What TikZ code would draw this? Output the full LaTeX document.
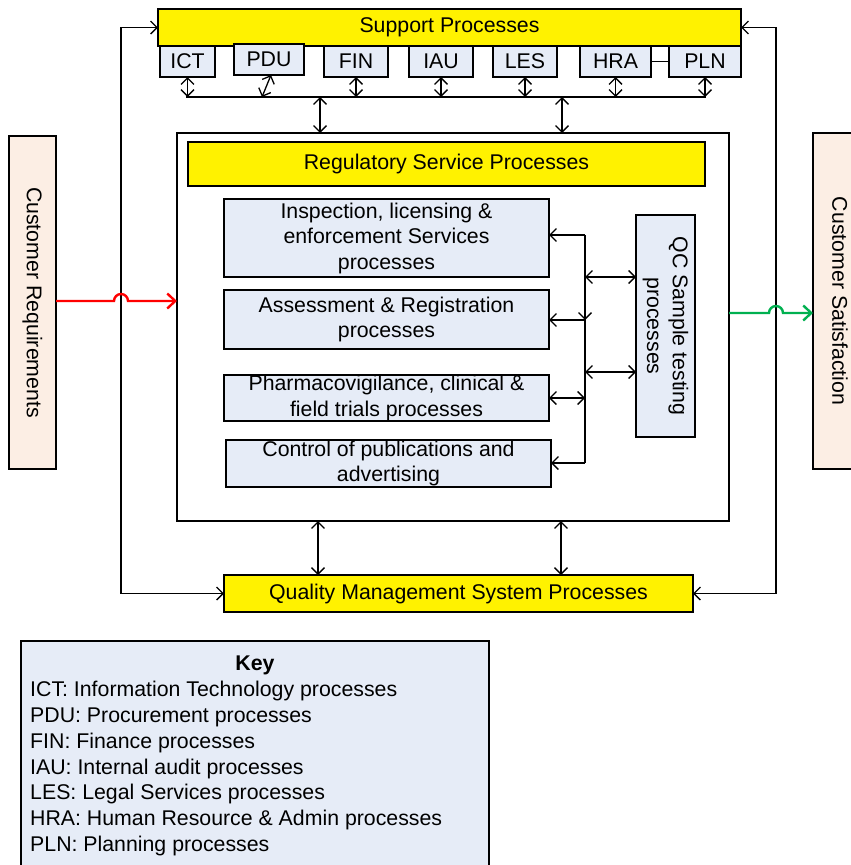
\documentclass[tikz,border=0pt]{standalone}
\usepackage{fontspec}
\setmainfont{Liberation Sans}
\usetikzlibrary{arrows.meta}
\definecolor{lb}{HTML}{E6ECF7}
\definecolor{peach}{HTML}{FCEEE4}
\definecolor{grn}{HTML}{00B050}
\newcommand{\fs}{\fontsize{21.3}{25.5}\selectfont}
\newcommand{\fk}{\fontsize{21.3}{25.8}\selectfont}
\tikzset{
 box/.style={draw=black, line width=1.3pt, inner sep=0pt, outer sep=0pt, align=center, font=\fs},
 ybox/.style={box, fill=yellow},
 bbox/.style={box, fill=lb},
 pbox/.style={box, fill=peach},
 tip/.tip={Straight Barb[length=6.5pt,width=13pt]},
 bigtip/.tip={Straight Barb[length=8pt,width=15pt]},
 arr/.style={line width=1.3pt, tip-tip},
 arrone/.style={line width=1.3pt, -tip},
 ln/.style={line width=1.3pt},
}
\begin{document}
\begin{tikzpicture}[x=1pt,y=-1pt]
\useasboundingbox (0,0) rectangle (851,865);
\clip (0,0) rectangle (851,865);
% support
\node[ybox, minimum width=583, minimum height=37] (sup) at (449.5,27.5) {Support Processes};
\node[bbox, minimum width=55, minimum height=31] (ict) at (187.5,61.5) {ICT};
\node[bbox, minimum width=70, minimum height=31] (pdu) at (269,59.5) {PDU};
\node[bbox, minimum width=64, minimum height=31] (fin) at (356,61.5) {FIN};
\node[bbox, minimum width=64, minimum height=31] (iau) at (441,61.5) {IAU};
\node[bbox, minimum width=64, minimum height=31] (les) at (525,61.5) {LES};
\node[bbox, minimum width=71, minimum height=31] (hra) at (615.5,61.5) {HRA};
\node[bbox, minimum width=72, minimum height=31] (pln) at (705,61.5) {PLN};
\draw[ln] (hra) -- (pln);
% bus
\coordinate (busl) at (186,97);
\coordinate (busr) at (706,97);
\draw[ln] (busl) -- (busr);
\foreach \n in {ict,fin,iau,les,hra,pln}{
  \draw[arr] (\n.south) -- (\n.south |- busl);
}
\coordinate (pdub) at (262,97);
\draw[arr] ([xshift=2pt]pdu.south) -- (pdub);
% main box
\node[draw=black, line width=2.5pt, minimum width=552, minimum height=388, inner sep=0pt, outer sep=0pt] (main) at (453,327) {};
\coordinate (b1) at (320,97);
\coordinate (b2) at (562,97);
\draw[arr] (b1) -- (b1 |- main.north);
\draw[arr] (b2) -- (b2 |- main.north);
\node[ybox, minimum width=517, minimum height=44] (reg) at (446.5,164) {Regulatory Service Processes};
\node[bbox, minimum width=325, minimum height=78] (insp) at (386.5,238) {Inspection, licensing \&\\enforcement Services\\processes};
\node[bbox, minimum width=325, minimum height=59] (ass) at (386.5,319.5) {Assessment \& Registration\\processes};
\node[bbox, minimum width=325, minimum height=46] (pha) at (386.5,398) {Pharmacovigilance, clinical \&\\field trials processes};
\node[bbox, minimum width=325, minimum height=47] (ctl) at (388.5,463.5) {Control of publications and\\advertising};
\node[bbox, rotate=-90, minimum width=222, minimum height=59] (qc) at (665.5,326) {QC Sample testing\\processes};
% inner network
\coordinate (v1) at (585,235);
\coordinate (v2) at (585,320);
\coordinate (v3) at (585,463);
\draw[ln] (v1) -- (v3);
\draw[arrone] (v1) -- (v1 -| insp.east);
\draw[arrone] (v1) -- (v2);
\draw[arrone] (v2) -- (v2 -| ass.east);
\coordinate (q1) at (585,277);
\coordinate (q2) at (585,372);
\draw[arr] (q1) -- (q1 -| qc.south);
\draw[arr] (q2) -- (q2 -| qc.south);
\coordinate (p1) at (585,398);
\draw[arr] (p1 -| pha.east) -- (p1);
\draw[arrone] (v3) -- (v3 -| ctl.east);
% QMS
\node[ybox, minimum width=469, minimum height=37] (qms) at (458.5,593.5) {Quality Management System Processes};
\coordinate (m1) at (318,521);
\coordinate (m2) at (561,521);
\draw[arr] (m1) -- (m1 |- qms.north);
\draw[arr] (m2) -- (m2 |- qms.north);
% loops
\coordinate (ll) at (121,0);
\coordinate (rr) at (776,0);
\draw[arr] (sup.west) -| (ll |- qms.west) -- (qms.west);
\draw[arr] (sup.east) -| (rr |- qms.east) -- (qms.east);
% customers
\node[pbox, rotate=-90, minimum width=333, minimum height=47] (creq) at (32.5,302.5) {Customer Requirements};
\node[pbox, rotate=-90, minimum width=336, minimum height=54] (csat) at (840,301) {Customer Satisfaction};
\coordinate (ry) at (0,301);
\draw[red, line width=2.4pt, -bigtip] (creq.north |- ry) -- (114,301) arc[start angle=180, end angle=360, radius=7] -- (main.west |- ry);
\coordinate (gy) at (0,313);
\draw[grn, line width=2.4pt, -bigtip] (main.east |- gy) -- (769,313) arc[start angle=180, end angle=360, radius=7] -- (csat.south |- gy);
% key
\node[draw=black, line width=1.3pt, fill=lb, minimum width=468, minimum height=240, inner sep=0pt, outer sep=0pt] (keybox) at (255,761) {};
\node[font=\fs\bfseries] (keyt) at (255,665) {Key};
\node[anchor=north west, align=left, font=\fk, inner sep=0pt] (keytxt) at (30,681) {ICT: Information Technology processes\\PDU: Procurement processes\\FIN: Finance processes\\IAU: Internal audit processes\\LES: Legal Services processes\\HRA: Human Resource \& Admin processes\\PLN: Planning processes};
\end{tikzpicture}
\end{document}
